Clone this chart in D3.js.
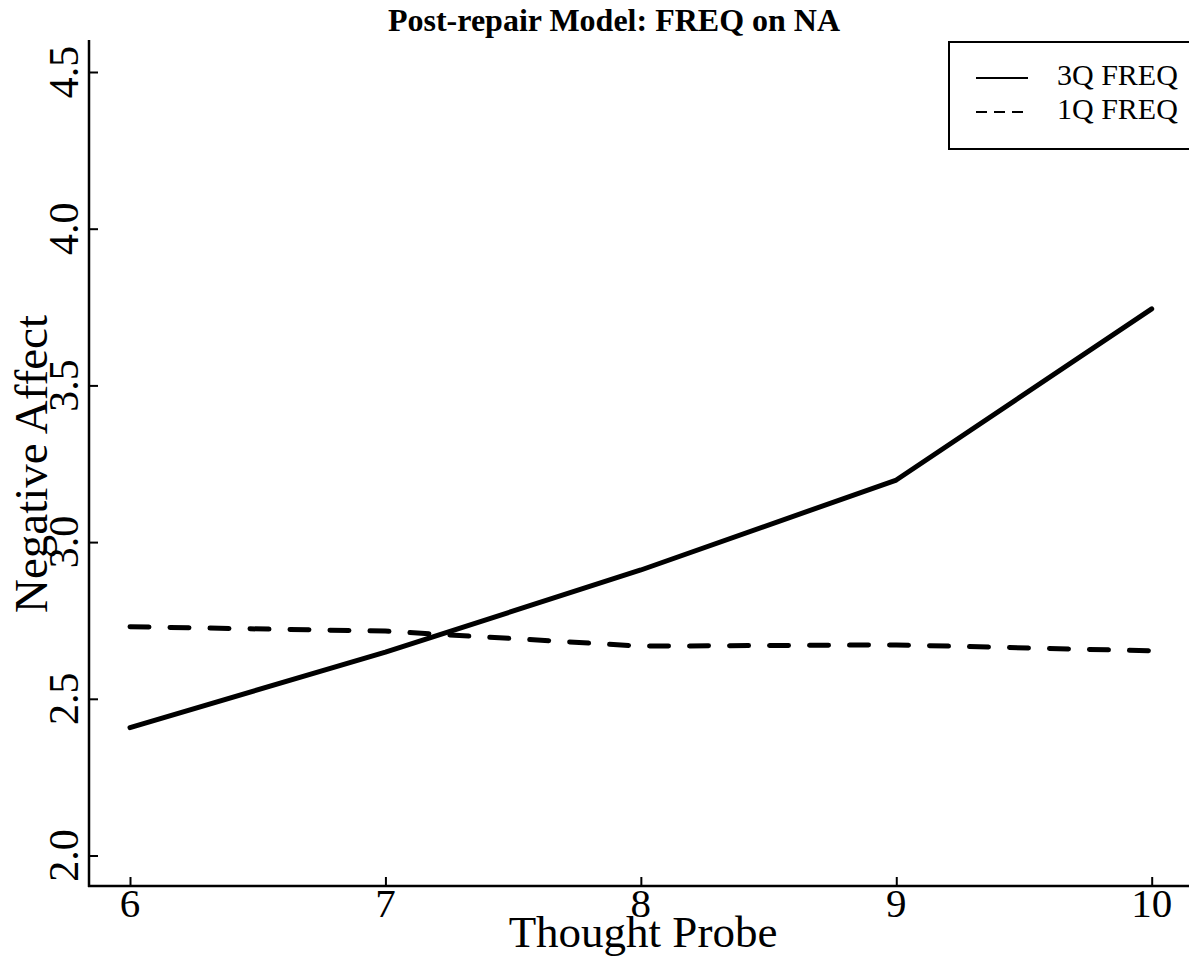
<!DOCTYPE html>
<html><head><meta charset="utf-8">
<script src="https://cdn.jsdelivr.net/npm/d3@7"></script>
<style>body{margin:0;background:#fff}svg{display:block}</style>
</head><body>
<script>
const probes = [6, 7, 8, 9, 10];
const freq3Q = [2.408, 2.649, 2.911, 3.198, 3.744];
const freq1Q = [2.730, 2.716, 2.668, 2.672, 2.653];
const seriesNames = ["3Q FREQ", "1Q FREQ"];
const yTicks = [2.0, 2.5, 3.0, 3.5, 4.0, 4.5];
const xTicks = [6, 7, 8, 9, 10];

const W = 1189, H = 963;
const svg = d3.select("body").append("svg").attr("width", W).attr("height", H);
const font = "'Liberation Serif','Times New Roman',serif";

const x = d3.scaleLinear().domain([6, 10]).range([130, 1151.7]);
const y = d3.scaleLinear().domain([2.0, 4.5]).range([855.5, 72]);

// axes lines
svg.append("line").attr("x1", 89).attr("x2", 89).attr("y1", 40).attr("y2", 887)
  .attr("stroke", "#000").attr("stroke-width", 2.5);
svg.append("line").attr("x1", 88).attr("x2", W).attr("y1", 886).attr("y2", 886)
  .attr("stroke", "#000").attr("stroke-width", 2.5);

// y axis
const yAxis = d3.axisRight(y).tickValues(yTicks).tickSize(9).tickFormat("");
const gy = svg.append("g").attr("transform", "translate(89,0)").call(yAxis);
gy.select(".domain").remove();
gy.selectAll(".tick line").attr("stroke", "#000").attr("stroke-width", 2);
yTicks.forEach(v => {
  svg.append("text").attr("transform", `translate(78,${y(v)}) rotate(-90)`)
    .attr("text-anchor", "middle").attr("font-family", font).attr("font-size", 42)
    .text(d3.format(".1f")(v));
});

// x axis
const xAxis = d3.axisTop(x).tickValues(xTicks).tickSize(9).tickFormat("");
const gx = svg.append("g").attr("transform", "translate(0,886)").call(xAxis);
gx.select(".domain").remove();
gx.selectAll(".tick line").attr("stroke", "#000").attr("stroke-width", 2);
xTicks.forEach(v => {
  svg.append("text").attr("x", x(v)).attr("y", 917).attr("text-anchor", "middle")
    .attr("font-family", font).attr("font-size", 41).text(v);
});

// titles
svg.append("text").attr("x", 614).attr("y", 31).attr("text-anchor", "middle")
  .attr("font-family", font).attr("font-weight", "bold").attr("font-size", 32)
  .text("Post-repair Model: FREQ on NA");
svg.append("text").attr("x", 643).attr("y", 947).attr("text-anchor", "middle")
  .attr("font-family", font).attr("font-size", 45).text("Thought Probe");
svg.append("text").attr("transform", "translate(47,464) rotate(-90)").attr("text-anchor", "middle")
  .attr("font-family", font).attr("font-size", 47).text("Negative Affect");

// lines
const line = d3.line().x((d, i) => x(probes[i])).y(d => y(d));
svg.append("path").datum(freq3Q).attr("d", line).attr("fill", "none")
  .attr("stroke", "#000").attr("stroke-width", 5).attr("stroke-linecap", "round").attr("stroke-linejoin", "round");
svg.append("path").datum(freq1Q).attr("d", line).attr("fill", "none")
  .attr("stroke", "#000").attr("stroke-width", 5).attr("stroke-linecap", "round")
  .attr("stroke-dasharray", "19,21");

// legend
svg.append("rect").attr("x", 949).attr("y", 42).attr("width", 260).attr("height", 107)
  .attr("fill", "#fff").attr("stroke", "#000").attr("stroke-width", 2);
const dashes = [null, "11,7"];
seriesNames.forEach((name, i) => {
  const ly = 78 + i * 34;
  svg.append("line").attr("x1", 976).attr("x2", 1028).attr("y1", ly).attr("y2", ly)
    .attr("stroke", "#000").attr("stroke-width", 2).attr("stroke-dasharray", dashes[i]);
  svg.append("text").attr("x", 1057).attr("y", ly + 7).attr("font-family", font)
    .attr("font-size", 30).text(name);
});
</script>
</body></html>
